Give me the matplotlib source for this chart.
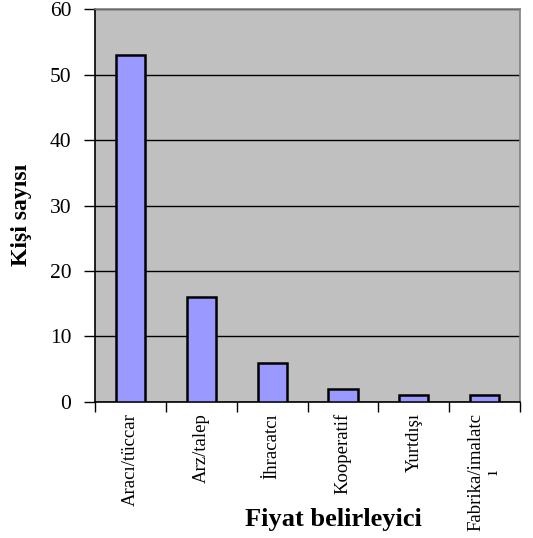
import numpy as np
import matplotlib.pyplot as plt
from matplotlib.ticker import FixedLocator

plt.rcParams["font.family"] = ["Liberation Serif", "DejaVu Serif"]

# Price-setter categories and respondent counts
categories = ["Aracı/tüccar", "Arz/talep", "İhracatcı", "Kooperatif",
              "Yurtdışı", "Fabrika/imalatc\nı"]
counts = [53, 16, 6, 2, 1, 1]

fig = plt.figure(figsize=(5.33, 5.38), dpi=100)
ax = fig.add_axes([0.178, 0.253, 0.798, 0.730])
ax.set_facecolor("#C0C0C0")

x = np.arange(len(categories))
ax.bar(x, counts, width=0.41, color="#9999FF", edgecolor="black",
       linewidth=1.8, zorder=3)

ax.set_xlim(-0.5, len(categories) - 0.5)
ax.set_ylim(0, 60)
ax.set_yticks(np.arange(0, 61, 10))
ax.grid(axis="y", color="black", linewidth=1.0, zorder=1)
ax.set_axisbelow(True)

# Category labels at bar centres, tick marks at category boundaries
ax.set_xticks(x)
ax.set_xticklabels(categories, rotation=90, fontsize=13.5, va="top",
                   ha="center", linespacing=1.0)
ax.tick_params(axis="x", which="major", length=0, pad=8)
ax.xaxis.set_minor_locator(FixedLocator(np.arange(-0.5, len(categories), 1.0)))
ax.tick_params(axis="x", which="minor", length=7, width=1.0, direction="out")
ax.tick_params(axis="y", length=8, width=1.0, direction="out",
               labelsize=15.5, pad=9)

for side in ["top", "right"]:
    ax.spines[side].set_color("#808080")
    ax.spines[side].set_linewidth(1.2)
for side in ["left", "bottom"]:
    ax.spines[side].set_color("black")
    ax.spines[side].set_linewidth(1.2)

fig.text(0.040, 0.60, "Kişi sayısı", rotation=90, fontsize=17,
         fontweight="bold", ha="center", va="center")
fig.text(0.625, 0.035, "Fiyat belirleyici", fontsize=19,
         fontweight="bold", ha="center", va="center")

fig.savefig("out.png", dpi=100)
